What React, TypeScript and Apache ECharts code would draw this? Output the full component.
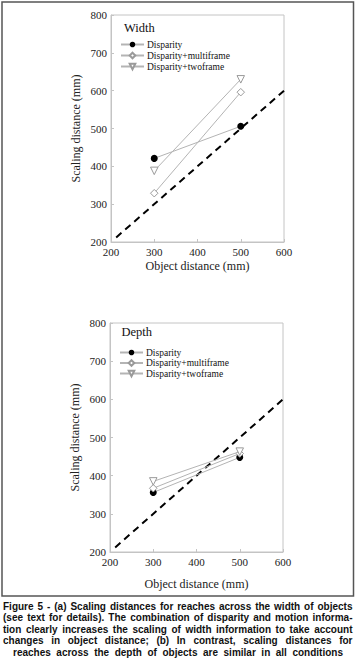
import React, { useEffect, useRef } from 'react';
import * as echarts from 'echarts';

// ---- data ----
const objectDistances = [300, 500];
const seriesNames = ['Disparity', 'Disparity+multiframe', 'Disparity+twoframe'];
const widthDisparity = [421, 506];
const widthMultiframe = [329, 596];
const widthTwoframe = [388, 630];
const depthDisparity = [356, 448];
const depthMultiframe = [367, 458];
const depthTwoframe = [385, 463];
const identityLine = [212, 600];
const panelTitles = ['Width', 'Depth'];
const xAxisName = 'Object distance (mm)';
const yAxisName = 'Scaling distance (mm)';
const captionLines = [
  'Figure 5 - (a) Scaling distances for reaches across the width of objects',
  '(see text for details). The combination of disparity and motion informa-',
  'tion clearly increases the scaling of width information to take account',
  'changes in object distance; (b) In contrast, scaling distances for',
  'reaches across the depth of objects are similar in all conditions',
];

const SERIF = "'Liberation Serif', 'DejaVu Serif', 'Times New Roman', serif";
const SANS = "'Liberation Sans', Arial, Helvetica, sans-serif";

const pts = (vals: number[]) => objectDistances.map((x, i) => [x, vals[i]]);

const markerStyles: any[] = [
  { symbol: 'circle', symbolSize: 7, itemStyle: { color: '#000', borderColor: '#000', borderWidth: 0 } },
  { symbol: 'diamond', symbolSize: 7.5, itemStyle: { color: '#fff', borderColor: '#9a9a9a', borderWidth: 1 } },
  { symbol: 'triangle', symbolSize: 7.5, symbolRotate: 180, itemStyle: { color: '#fff', borderColor: '#9a9a9a', borderWidth: 1 } },
];

function buildCaption(): any[] {
  const fs = 10;
  const font = `bold ${fs}px ${SANS}`;
  const canvas = document.createElement('canvas');
  const ctx = canvas.getContext('2d')!;
  ctx.font = font;
  const spaceW = ctx.measureText(' ').width;
  const out: any[] = [];
  const top = 606;
  const lh = 11.5;
  captionLines.forEach((line, li) => {
    const x0 = li === captionLines.length - 1 ? 13 : 3;
    const x1 = li === captionLines.length - 1 ? 343 : 352.5;
    const W = x1 - x0;
    const words = line.split(' ');
    const widths = words.map((w) => ctx.measureText(w).width);
    const total = widths.reduce((a, b) => a + b, 0);
    let gap = (W - total) / (words.length - 1);
    let s = 1;
    const minGap = spaceW * 0.7;
    if (gap < minGap) {
      s = W / (total + (words.length - 1) * minGap);
      gap = minGap;
    }
    let pos = 0;
    words.forEach((w, wi) => {
      out.push({
        type: 'text',
        x: x0 + pos * s,
        y: top + li * lh,
        scaleX: s,
        style: {
          text: w,
          fill: '#111',
          fontSize: fs,
          fontWeight: 'bold',
          fontFamily: SANS,
          align: 'left',
          verticalAlign: 'middle',
        },
      });
      pos += widths[wi] + gap;
    });
  });
  return out;
}

export default function App() {
  const ref = useRef<HTMLDivElement>(null);
  useEffect(() => {
    if (!ref.current) return;
    const chart = echarts.init(ref.current, undefined, { renderer: 'svg' });

    const grids = [
      { left: 111, top: 15, width: 173, height: 227 },
      { left: 110, top: 323, width: 173, height: 229 },
    ];
    const xNameGaps = [18, 26];

    const axisLabel = { fontFamily: SERIF, fontSize: 11, color: '#222' };
    const frame = '#c4c4c4';

    const xAxes = grids.map((_, gi) => ({
      type: 'value',
      gridIndex: gi,
      min: 200,
      max: 600,
      interval: 100,
      name: xAxisName,
      nameLocation: 'middle',
      nameGap: xNameGaps[gi],
      nameTextStyle: { fontFamily: SERIF, fontSize: 12, color: '#222' },
      axisLine: { show: true, lineStyle: { color: frame, width: 1 } },
      axisTick: { show: true, inside: true, length: 3, lineStyle: { color: frame } },
      axisLabel: { ...axisLabel, margin: 4 },
      splitLine: { show: false },
    }));
    const yAxes = grids.map((_, gi) => ({
      type: 'value',
      gridIndex: gi,
      min: 200,
      max: 800,
      interval: 100,
      name: yAxisName,
      nameLocation: 'middle',
      nameGap: 29,
      nameTextStyle: { fontFamily: SERIF, fontSize: 12, color: '#222' },
      axisLine: { show: true, lineStyle: { color: frame, width: 1 } },
      axisTick: { show: true, inside: true, length: 3, lineStyle: { color: frame } },
      axisLabel: { ...axisLabel, margin: 4 },
      splitLine: { show: false },
    }));

    const panelData = [
      [widthDisparity, widthMultiframe, widthTwoframe],
      [depthDisparity, depthMultiframe, depthTwoframe],
    ];

    const series: any[] = [];
    grids.forEach((_, gi) => {
      series.push({
        type: 'line',
        name: 'identity',
        xAxisIndex: gi,
        yAxisIndex: gi,
        data: identityLine.map((v) => [v, v]),
        showSymbol: false,
        symbol: 'none',
        lineStyle: { color: '#000', width: 2, type: [7, 5] },
        silent: true,
        z: 1,
      });
      panelData[gi].forEach((vals, si) => {
        series.push({
          type: 'line',
          name: seriesNames[si],
          xAxisIndex: gi,
          yAxisIndex: gi,
          data: pts(vals),
          ...markerStyles[si],
          showSymbol: true,
          lineStyle: { color: '#b4b4b4', width: 1 },
          z: 3 + si,
        });
      });
    });

    const legendTops = [39.5, 347.5];
    const legendLefts = [120, 119];
    const legendGaps = [1, 0.5];
    const titleTops = [21, 325];
    const titleLefts = [124, 121.5];

    chart.setOption({
      animation: false,
      backgroundColor: '#fff',
      grid: grids.map((g) => ({ ...g, show: true, borderColor: frame, borderWidth: 1, backgroundColor: 'transparent' })),
      xAxis: xAxes,
      yAxis: yAxes,
      title: panelTitles.map((t, i) => ({
        text: t,
        left: titleLefts[i],
        top: titleTops[i],
        padding: 0,
        textStyle: { fontFamily: SERIF, fontSize: 12.5, fontWeight: 'normal', color: '#111' },
      })),
      legend: grids.map((_, i) => ({
        orient: 'vertical',
        left: legendLefts[i],
        top: legendTops[i],
        padding: 0,
        itemWidth: 23,
        itemHeight: 7,
        itemGap: legendGaps[i],
        selectedMode: false,
        data: seriesNames,
        textStyle: { fontFamily: SERIF, fontSize: 9.5, color: '#111', padding: [0, 0, 0, -2] },
      })),
      series,
      graphic: [
        {
          type: 'rect',
          shape: { x: 2, y: 2, width: 351.5, height: 594 },
          style: { fill: 'none', stroke: '#555', lineWidth: 1.5 },
          silent: true,
        },
        ...buildCaption(),
      ],
    });
    return () => chart.dispose();
  }, []);
  return <div ref={ref} style={{ position: 'absolute', left: 0, top: 0, width: 356, height: 662 }} />;
}
